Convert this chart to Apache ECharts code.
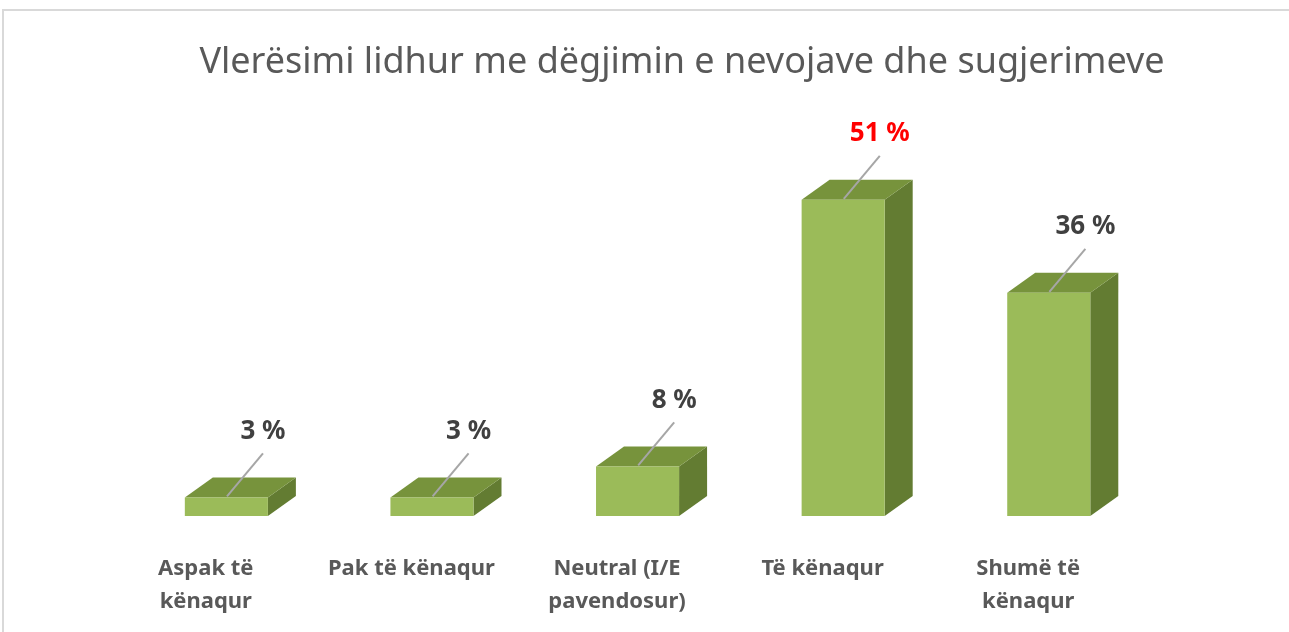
<!DOCTYPE html>
<html>
<head>
<meta charset="utf-8">
<style>
  html, body { margin: 0; padding: 0; background: #fff; }
  #chart { width: 1289px; height: 632px; }
</style>
<script src="https://cdn.jsdelivr.net/npm/echarts@6/dist/echarts.min.js"></script>
</head>
<body>
<div id="chart"></div>
<script>
const titleText = 'Vlerësimi lidhur me dëgjimin e nevojave dhe sugjerimeve';
const categories = ['Aspak të\nkënaqur', 'Pak të kënaqur', 'Neutral (I/E\npavendosur)', 'Të kënaqur', 'Shumë të\nkënaqur'];
const values = [3, 3, 8, 51, 36];

const chart = echarts.init(document.getElementById('chart'));
const maxValue = Math.max(...values);

// 3D box: front face, top face and right side, plus a leader line and value label
function renderBox(params, api) {
  const idx = api.value(0);
  const val = api.value(1);
  const top = api.coord([idx, val]);
  const base = api.coord([idx, 0]);
  const band = api.size([1, 0])[0];
  const dx = 28, dy = -20;
  const fl = top[0] - band * 0.102;
  const fr = fl + band * 0.404;
  const yt = top[1];
  const yb = base[1];
  const sx = fl + band * 0.205, sy = yt - 1;
  const ex = sx + 36, ey = sy - 43;
  return {
    type: 'group',
    children: [
      {
        type: 'polygon',
        shape: { points: [[fr, yt], [fr + dx, yt + dy], [fr + dx, yb + dy], [fr, yb]] },
        style: { fill: '#637C32' }
      },
      {
        type: 'polygon',
        shape: { points: [[fl, yt], [fr, yt], [fr + dx, yt + dy], [fl + dx, yt + dy]] },
        style: { fill: '#77933C' }
      },
      {
        type: 'rect',
        shape: { x: fl, y: yt, width: fr - fl, height: yb - yt },
        style: { fill: '#9BBB59' }
      },
      {
        type: 'line',
        shape: { x1: sx, y1: sy, x2: ex, y2: ey },
        style: { stroke: '#A6A6A6', lineWidth: 2 }
      },
      {
        type: 'text',
        x: ex,
        y: ey - 22,
        style: {
          text: val + ' %',
          fill: val === maxValue ? '#FF0000' : '#404040',
          font: 'bold 26px "Noto Sans"',
          align: 'center',
          verticalAlign: 'middle'
        }
      }
    ]
  };
}

chart.setOption({
  backgroundColor: '#ffffff',
  animation: false,
  graphic: [
    {
      type: 'rect',
      shape: { x: 3, y: 10, width: 1400, height: 700 },
      style: { fill: 'none', stroke: '#D9D9D9', lineWidth: 2 },
      silent: true
    },
    {
      type: 'text',
      x: 682,
      y: 63,
      style: {
        text: titleText,
        fill: '#595959',
        font: '36px "Noto Sans"',
        align: 'center',
        verticalAlign: 'middle'
      }
    }
  ],
  grid: { left: 103, right: 158, top: 144, bottom: 116 },
  xAxis: {
    type: 'category',
    data: categories,
    axisLine: { show: false },
    axisTick: { show: false },
    axisLabel: {
      color: '#595959',
      fontFamily: 'Noto Sans',
      fontWeight: 'bold',
      fontSize: 22,
      lineHeight: 33,
      margin: 36,
      interval: 0
    }
  },
  yAxis: {
    type: 'value',
    min: 0,
    max: 60,
    show: false,
    splitLine: { show: false }
  },
  series: [
    {
      type: 'custom',
      renderItem: renderBox,
      data: values.map((v, i) => [i, v]),
      encode: { x: 0, y: 1 }
    }
  ]
});
</script>
</body>
</html>
